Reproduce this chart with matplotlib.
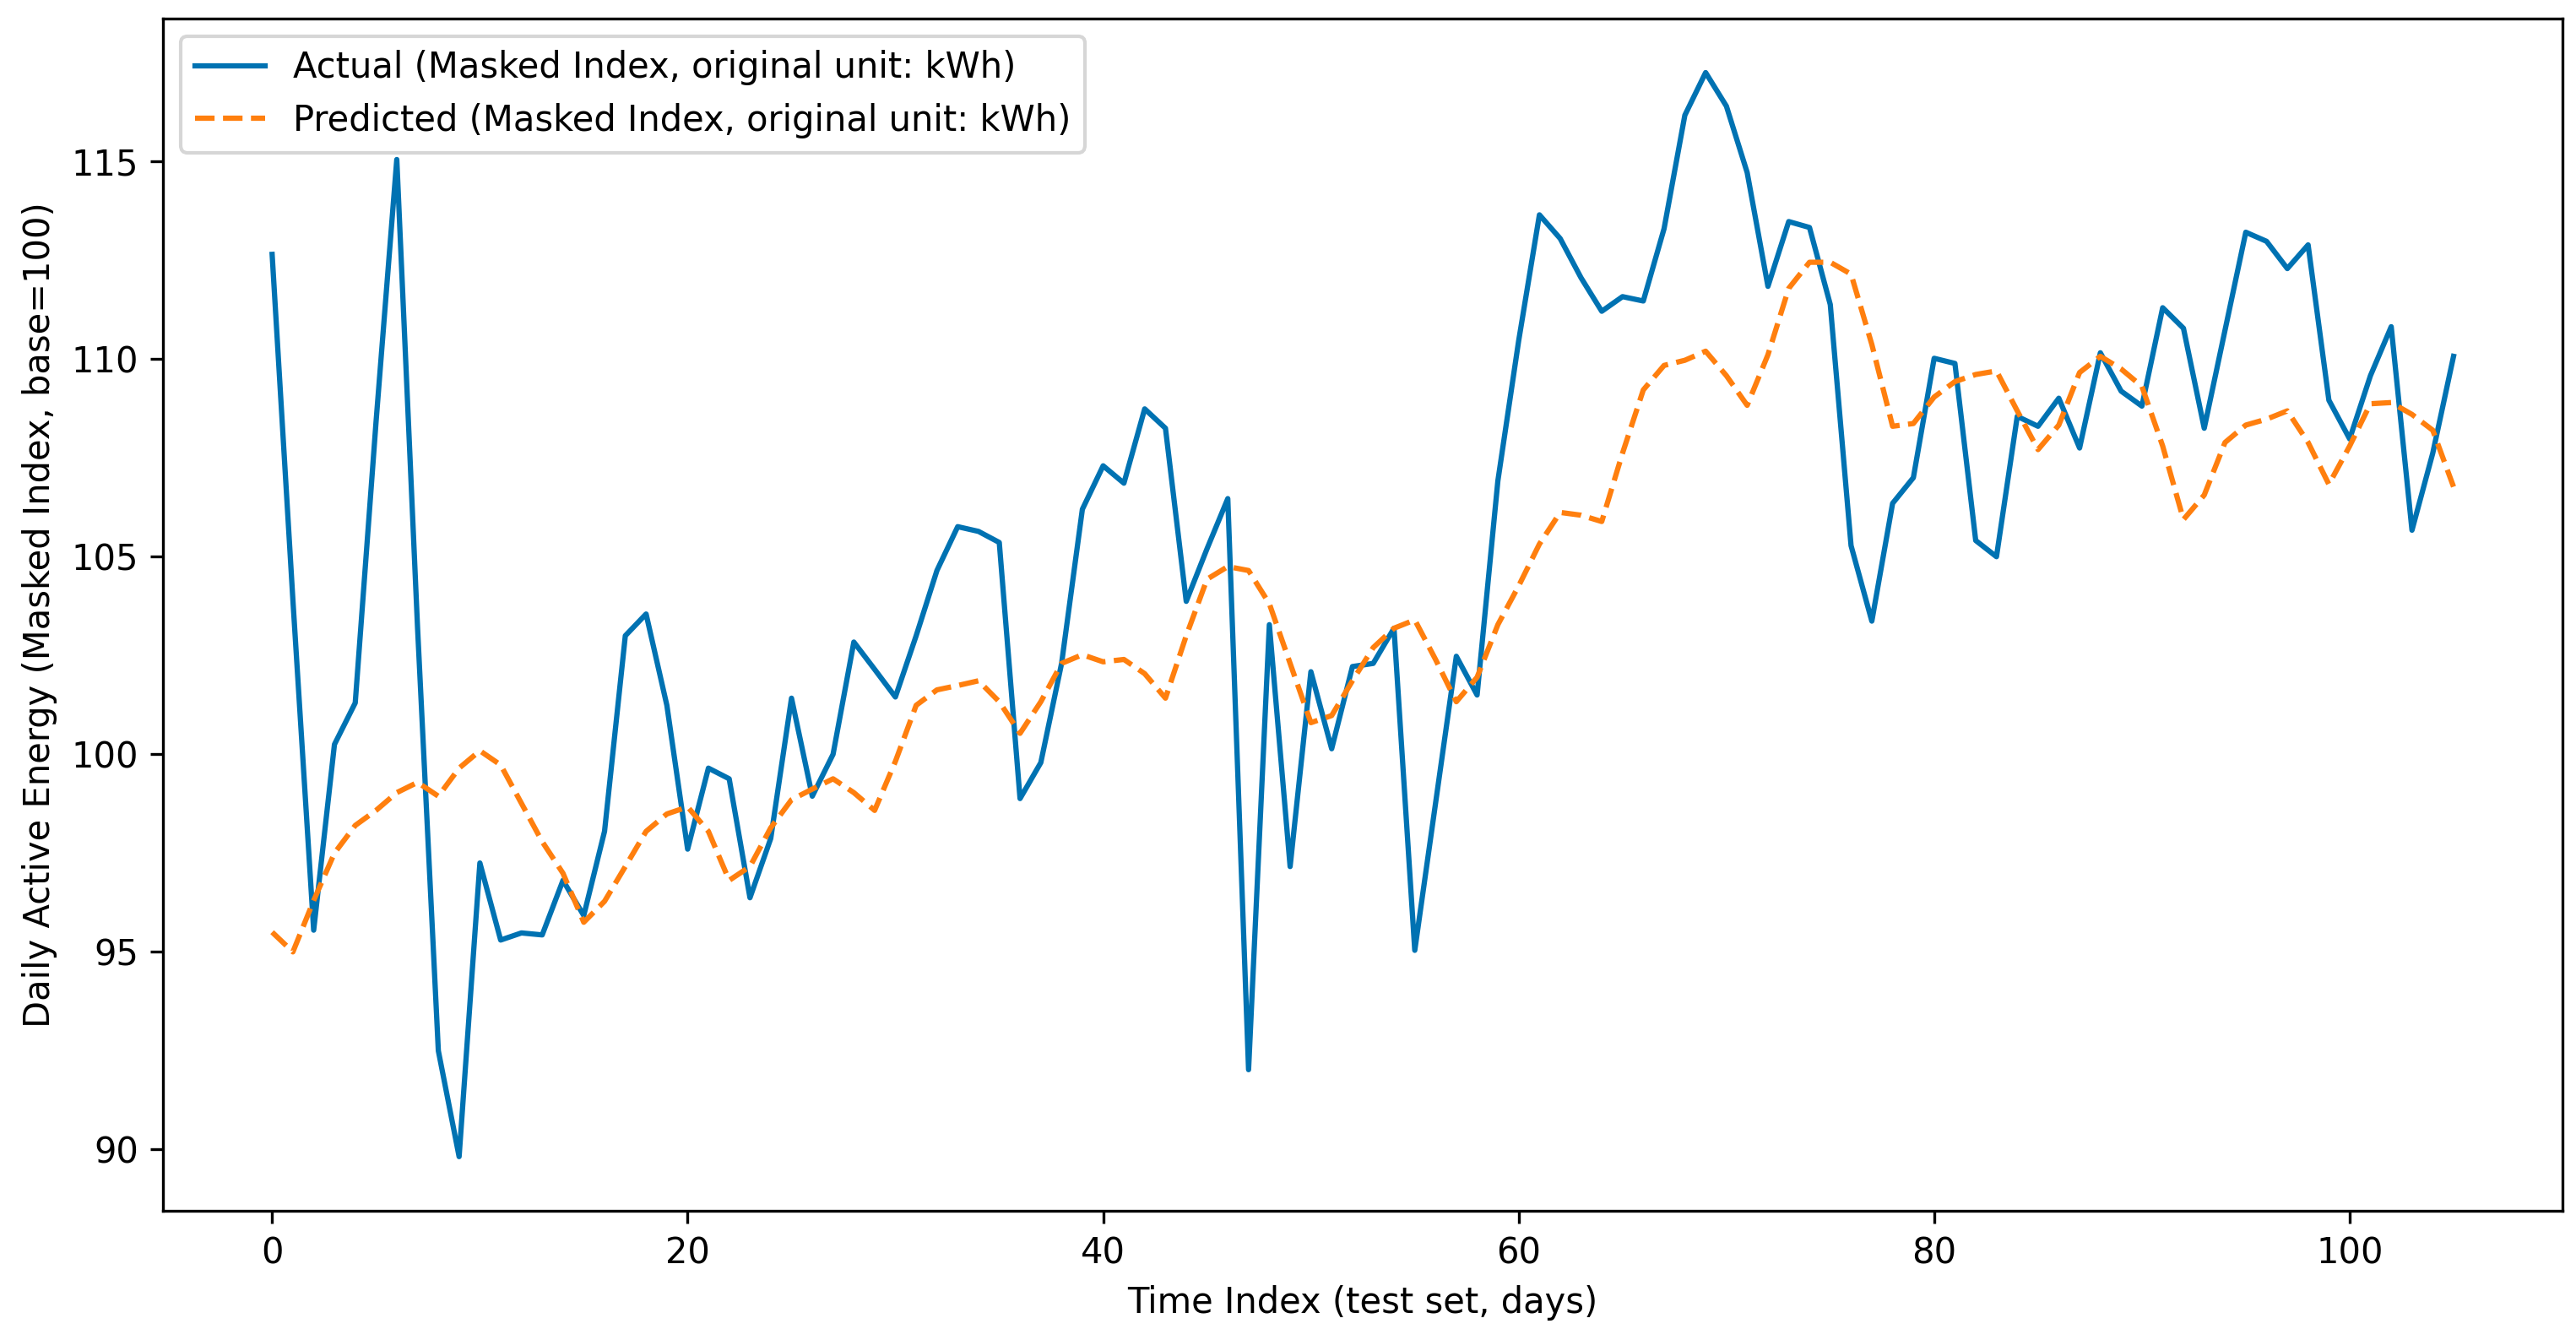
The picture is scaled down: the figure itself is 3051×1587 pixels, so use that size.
import numpy as np
import matplotlib
matplotlib.use('Agg')
import matplotlib.pyplot as plt

# actual vs predicted daily energy index
actual = [
    112.65, 103.9, 95.55, 100.25, 101.3, 108.4, 115.05, 103.2, 92.5, 89.82,
    97.25, 95.3, 95.48, 95.43, 96.81, 95.92, 98.05, 103.0, 103.55, 101.24,
    97.6, 99.65, 99.38, 96.37, 97.87, 101.42, 98.94, 100.0, 102.84, 102.15,
    101.45, 103.0, 104.65, 105.76, 105.64, 105.36, 98.88, 99.79, 102.3, 106.2,
    107.3, 106.86, 108.74, 108.25, 103.87, 105.2, 106.47, 92.02, 103.28, 97.16,
    102.09, 100.14, 102.22, 102.3, 103.19, 95.04, 98.76, 102.48, 101.5, 106.92,
    110.46, 113.65, 113.05, 112.06, 111.21, 111.58, 111.47, 113.3, 116.17, 117.25,
    116.4, 114.72, 111.84, 113.48, 113.33, 111.38, 105.28, 103.37, 106.35, 107.0,
    110.02, 109.89, 105.41, 105.0, 108.55, 108.3, 109.01, 107.75, 110.16, 109.19,
    108.81, 111.3, 110.78, 108.25, 110.73, 113.21, 112.98, 112.29, 112.89, 108.96,
    107.98, 109.58, 110.82, 105.67, 107.62, 110.07,
]

predicted = [
    95.5, 95.0, 96.3, 97.5, 98.2, 98.58, 99.03, 99.29, 98.94, 99.65,
    100.09, 99.73, 98.76, 97.79, 96.99, 95.75, 96.28, 97.16, 98.05, 98.49,
    98.67, 98.05, 96.81, 97.16, 98.14, 98.85, 99.12, 99.38, 99.03, 98.58,
    99.82, 101.24, 101.63, 101.74, 101.86, 101.33, 100.53, 101.33, 102.3, 102.52,
    102.34, 102.4, 102.04, 101.42, 103.0, 104.43, 104.75, 104.65, 103.81, 102.3,
    100.8, 100.98, 101.86, 102.7, 103.19, 103.4, 102.4, 101.33, 101.95, 103.28,
    104.26, 105.32, 106.12, 106.05, 105.89, 107.62, 109.22, 109.84, 109.97, 110.2,
    109.58, 108.83, 110.11, 111.79, 112.45, 112.45, 112.15, 110.37, 108.3, 108.37,
    109.04, 109.43, 109.61, 109.7, 108.69, 107.71, 108.33, 109.66, 110.07, 109.75,
    109.31, 107.8, 105.94, 106.56, 107.89, 108.33, 108.48, 108.69, 107.89, 106.83,
    107.8, 108.87, 108.9, 108.6, 108.2, 106.77,
]

days = np.arange(len(actual))

fig, ax = plt.subplots(figsize=(10.17, 5.29), dpi=300)
fig.subplots_adjust(left=0.0633, right=0.9948, bottom=0.0964, top=0.9863)

ax.plot(days, actual, color='#0072B2', linewidth=1.5,
        label='Actual (Masked Index, original unit: kWh)')
ax.plot(days, predicted, color='#ff7f0e', linewidth=1.5, linestyle='--',
        label='Predicted (Masked Index, original unit: kWh)')

ax.set_xlabel('Time Index (test set, days)')
ax.set_ylabel('Daily Active Energy (Masked Index, base=100)')
ax.legend(loc='upper left')

fig.savefig('out.png', dpi=300)
